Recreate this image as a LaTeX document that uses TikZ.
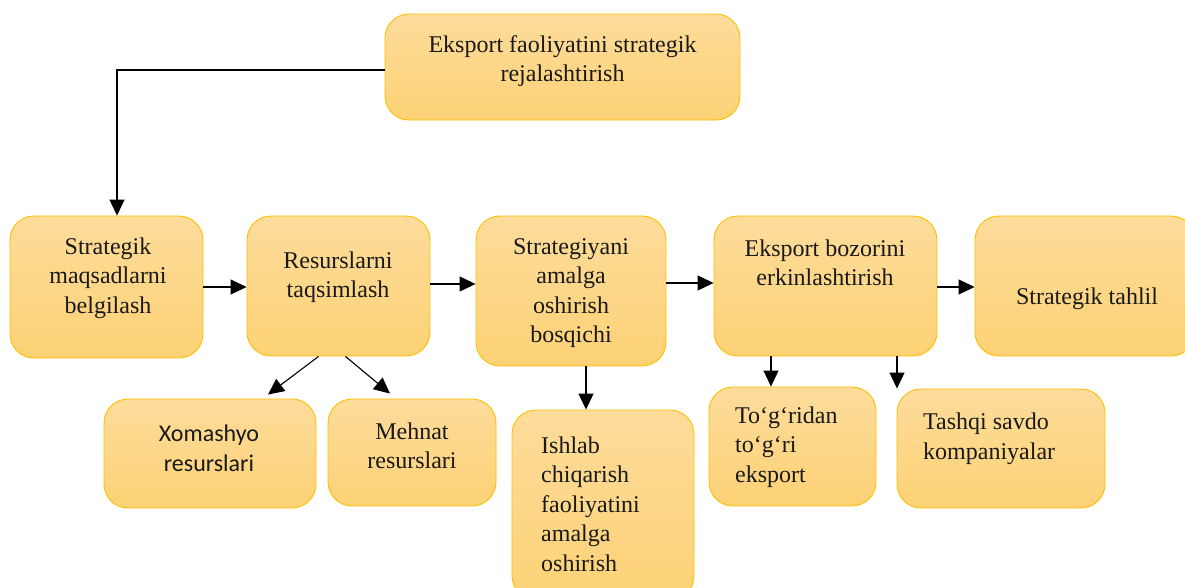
\documentclass[tikz,border=0pt]{standalone}
\usepackage{fontspec}
\setmainfont{Liberation Serif}
\newfontfamily\calfont{Carlito}
\usetikzlibrary{arrows.meta}
\definecolor{boxtop}{RGB}{253,220,155}
\definecolor{boxbot}{RGB}{253,210,118}
\definecolor{boxline}{RGB}{255,192,0}
\tikzset{
  box/.style={draw=boxline, line width=0.9pt, rounded corners=24pt,
    top color=boxtop, bottom color=boxbot, inner sep=0pt},
  lbl/.style={font=\fontsize{24}{29.5}\selectfont, align=center, inner sep=0pt, text=black!90},
  lbll/.style={lbl, align=left, anchor=west},
  arr/.style={line width=1.1pt, -{Triangle[length=16pt,width=15pt]}}
}
\begin{document}
\begin{tikzpicture}[x=1pt,y=-1pt]
\clip (0,0) rectangle (1185,587);
\fill[white] (0,0) rectangle (1185,587);

% boxes
\node[box, minimum width=355, minimum height=106] (top) at (562.5,67) {};
\node[box, minimum width=193, minimum height=142] (b1) at (106.5,287) {};
\node[box, minimum width=183, minimum height=140] (b2) at (338.5,286) {};
\node[box, minimum width=190, minimum height=150] (b3) at (571,291) {};
\node[box, minimum width=223, minimum height=140] (b4) at (825.5,286) {};
\node[box, minimum width=220, minimum height=140] (b5) at (1085,286) {};
\node[box, minimum width=212, minimum height=109] (b6) at (210,453.5) {};
\node[box, minimum width=168, minimum height=107] (b7) at (412,452.5) {};
\node[box, minimum width=182, minimum height=190] (b8) at (603,505) {};
\node[box, minimum width=167, minimum height=119] (b9) at (792.5,446.5) {};
\node[box, minimum width=208, minimum height=119] (b10) at (1001,448.5) {};

% texts
\node[lbl] (ttop) at (562.5,61) {Eksport faoliyatini strategik\\rejalashtirish};
\node[lbl] (t1) at (108,278) {Strategik\\maqsadlarni\\belgilash};
\node[lbl] (t2) at (338,277) {Resurslarni\\taqsimlash};
\node[lbl] (t3) at (571,293) {Strategiyani\\amalga\\oshirish\\bosqichi};
\node[lbl] (t4) at (825,263) {Eksport bozorini\\erkinlashtirish};
\node[lbl] (t5) at (1087,299) {Strategik tahlil};
\node[lbl, font=\calfont\fontsize{24}{30}\selectfont] (t6) at (209,448) {Xomashyo\\resurslari};
\node[lbl] (t7) at (412,446) {Mehnat\\resurslari};
\node[lbll] (t8) at (541,504) {Ishlab\\chiqarish\\faoliyatini\\amalga\\oshirish};
\node[lbll] (t9) at (735,447) {To‘g‘ridan\\to‘g‘ri\\eksport};
\node[lbll] (t10) at (923,439) {Tashqi savdo\\kompaniyalar};

% connectors
\draw[arr] ([yshift=-3pt]top.west) -| ([xshift=10.5pt]b1.north);
\draw[arr] (b1.east) -- (b1.east -| b2.west);
\draw[arr] ([yshift=2pt]b2.east) -- ([yshift=2pt]b2.east -| b3.west);
\draw[arr] ([yshift=8pt]b3.east) -- ([yshift=8pt]b3.east -| b4.west);
\draw[arr] ([yshift=-1pt]b4.east) -- ([yshift=-1pt]b4.east -| b5.west);
\draw[arr] ([xshift=-20pt]b2.south) -- ([xshift=58pt,yshift=4pt]b6.north);
\draw[arr] ([xshift=7pt]b2.south) -- ([xshift=-22pt,yshift=5pt]b7.north);
\draw[arr] ([xshift=15pt]b3.south) -- ([xshift=15pt]b3.south |- b8.north);
\draw[arr] ([xshift=-54.5pt]b4.south) -- ([xshift=-54.5pt]b4.south |- b9.north);
\draw[arr] ([xshift=71.5pt]b4.south) -- ([xshift=71.5pt]b4.south |- b10.north);
\end{tikzpicture}
\end{document}
